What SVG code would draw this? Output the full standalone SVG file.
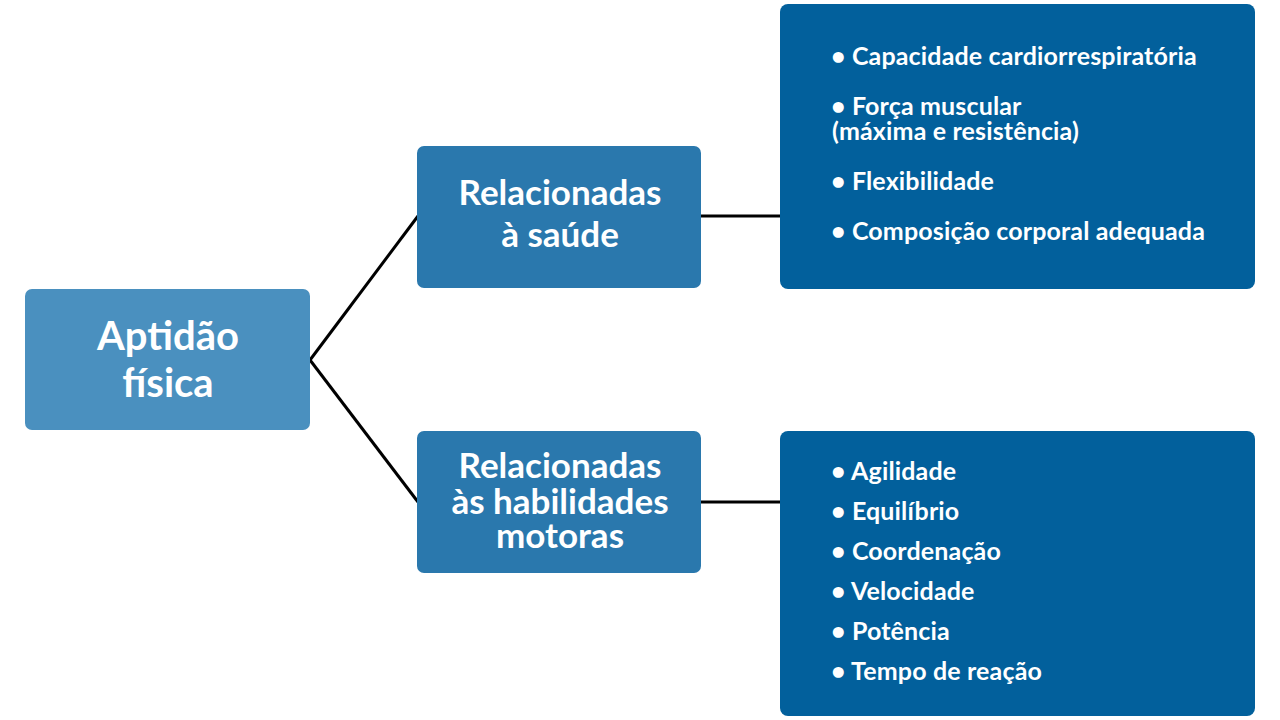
<svg xmlns="http://www.w3.org/2000/svg" width="1280" height="720" viewBox="0 0 1280 720">
<style>
.t{font-family:Lato,"Open Sans","Liberation Sans",sans-serif;font-weight:bold;fill:#ffffff}
.c{text-anchor:middle}
.big{font-size:40px}
.mid{font-size:35px}
.li{font-size:25px;letter-spacing:0.15px}
.con{stroke:#000000;stroke-width:3;fill:none}
</style>
<rect width="1280" height="720" fill="#ffffff"/>
<g id="connectors">
<line class="con" x1="310" y1="360" x2="418" y2="216"/>
<line class="con" x1="310" y1="360" x2="418" y2="502"/>
<line class="con" x1="700" y1="216" x2="781" y2="216"/>
<line class="con" x1="700" y1="502" x2="781" y2="502"/>
</g>
<g id="aptidao">
<rect x="25" y="289" width="285" height="141" rx="7" fill="#4a90bf"/>
<text class="t c big" x="168" y="350">Aptidão</text>
<text class="t c big" x="168" y="397">física</text>
</g>
<g id="saude">
<rect x="417" y="146" width="284" height="142" rx="7" fill="#2a78ad"/>
<text class="t c mid" x="560" y="205">Relacionadas</text>
<text class="t c mid" x="560" y="247">à saúde</text>
</g>
<g id="motoras">
<rect x="417" y="431" width="284" height="142" rx="7" fill="#2a78ad"/>
<text class="t c mid" x="560" y="478">Relacionadas</text>
<text class="t c mid" x="560" y="514">às habilidades</text>
<text class="t c mid" x="560" y="548">motoras</text>
</g>
<g id="lista-saude">
<rect x="780" y="4" width="475" height="285" rx="8" fill="#02609c"/>
<text class="t li" x="831" y="65">• Capacidade cardiorrespiratória</text>
<text class="t li" x="831" y="115">• Força muscular</text>
<text class="t li" x="832" y="140">(máxima e resistência)</text>
<text class="t li" x="831" y="190">• Flexibilidade</text>
<text class="t li" x="831" y="240">• Composição corporal adequada</text>
</g>
<g id="lista-motoras">
<rect x="780" y="431" width="475" height="285" rx="8" fill="#02609c"/>
<text class="t li" x="831" y="480">• Agilidade</text>
<text class="t li" x="831" y="520">• Equilíbrio</text>
<text class="t li" x="831" y="560">• Coordenação</text>
<text class="t li" x="831" y="600">• Velocidade</text>
<text class="t li" x="831" y="640">• Potência</text>
<text class="t li" x="831" y="680">• Tempo de reação</text>
</g>
</svg>
